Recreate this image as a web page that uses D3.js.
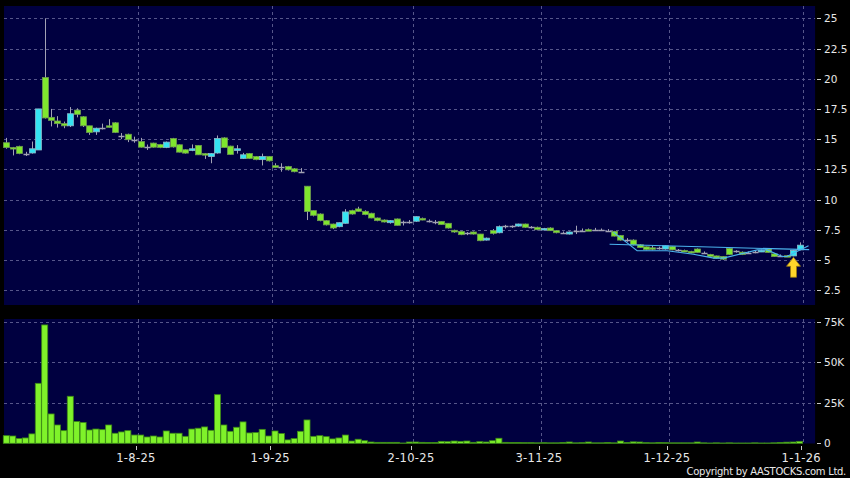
<!DOCTYPE html>
<html>
<head>
<meta charset="utf-8">
<script src="https://cdn.jsdelivr.net/npm/d3@7"></script>
<style>
  body { margin: 0; background: #000; }
  svg { display: block; }
  text { font-family: "DejaVu Sans", sans-serif; fill: #e8e8e8; }
</style>
</head>
<body>
<div id="chart"></div>
<script>
const width = 850;
const height = 478;

// 每日 [开, 高, 低, 收]
const ohlc = [
  [14.7, 15.1, 14.2, 14.3], [14.3, 14.35, 13.65, 14.2], [14.4, 14.45, 13.75, 13.8], [13.8, 13.95, 13.6, 13.8],
  [13.85, 14.8, 13.8, 14.2], [14.1, 17.5, 14.1, 17.5], [20.1, 25.0, 16.7, 16.75], [16.8, 17.5, 16.05, 16.55],
  [16.5, 16.9, 15.95, 16.28], [16.28, 16.45, 15.9, 16.1], [16.1, 17.65, 16.0, 17.1], [17.4, 17.55, 16.8, 17.05],
  [16.85, 16.9, 16.0, 16.1], [16.1, 16.1, 15.35, 15.55], [15.6, 15.95, 15.35, 15.9], [15.95, 16.28, 15.8, 15.95],
  [16.1, 16.65, 15.95, 16.0], [16.35, 16.4, 15.5, 15.55], [15.25, 15.5, 15.0, 15.25], [15.4, 15.45, 14.75, 14.95],
  [14.95, 15.2, 14.7, 14.95], [14.8, 15.1, 14.3, 14.33], [14.33, 14.55, 14.1, 14.33], [14.67, 14.7, 14.3, 14.33],
  [14.55, 14.6, 14.25, 14.3], [14.3, 14.8, 14.25, 14.75], [15.05, 15.1, 14.3, 14.35], [14.53, 14.55, 13.9, 13.92],
  [14.12, 14.15, 13.8, 13.84], [14.06, 14.56, 14.0, 14.2], [14.48, 14.5, 13.7, 13.7], [13.8, 13.85, 13.36, 13.67],
  [13.56, 13.85, 13.0, 13.8], [13.85, 15.3, 13.8, 15.05], [15.1, 15.15, 14.3, 14.3], [14.42, 14.45, 13.7, 13.73],
  [14.06, 14.5, 13.8, 14.2], [13.4, 13.86, 13.35, 13.7], [13.8, 13.85, 13.35, 13.4], [13.56, 13.6, 13.25, 13.3],
  [13.3, 13.8, 12.82, 13.56], [13.57, 13.6, 13.15, 13.2], [12.8, 13.0, 12.6, 12.65], [12.7, 13.0, 12.3, 12.7],
  [12.73, 12.78, 12.4, 12.46], [12.54, 12.6, 12.25, 12.3], [12.26, 12.6, 12.2, 12.26], [11.1, 11.1, 8.3, 9.0],
  [9.08, 9.1, 8.6, 8.69], [8.8, 8.85, 8.2, 8.25], [8.25, 8.3, 7.85, 7.9], [7.97, 8.0, 7.55, 7.64],
  [7.75, 8.1, 7.7, 8.08], [8.03, 9.2, 8.0, 8.97], [9.08, 9.15, 8.75, 8.8], [9.22, 9.4, 9.0, 9.02],
  [9.02, 9.1, 8.7, 8.75], [8.86, 8.9, 8.45, 8.47], [8.47, 8.5, 8.2, 8.25], [8.3, 8.35, 8.1, 8.14],
  [8.08, 8.3, 8.0, 8.25], [8.39, 8.42, 7.85, 7.86], [8.11, 8.25, 7.85, 8.11], [8.14, 8.3, 8.0, 8.14],
  [8.2, 8.6, 8.15, 8.58], [8.44, 8.5, 8.28, 8.3], [8.25, 8.35, 8.1, 8.25], [8.14, 8.3, 7.95, 8.14],
  [8.19, 8.2, 7.9, 7.92], [8.03, 8.05, 7.6, 7.64], [7.45, 7.5, 7.25, 7.31], [7.36, 7.4, 7.05, 7.09],
  [7.2, 7.3, 7.05, 7.2], [7.31, 7.35, 7.1, 7.14], [7.14, 7.15, 6.55, 6.59], [6.64, 6.85, 6.6, 6.8],
  [7.42, 7.55, 7.1, 7.2], [7.25, 7.85, 7.2, 7.75], [7.78, 7.9, 7.6, 7.78], [7.78, 7.85, 7.65, 7.78],
  [7.8, 8.0, 7.75, 7.97], [7.97, 8.0, 7.65, 7.7], [7.72, 7.8, 7.6, 7.72], [7.7, 7.75, 7.45, 7.5],
  [7.55, 7.65, 7.5, 7.6], [7.64, 7.7, 7.4, 7.42], [7.42, 7.45, 7.2, 7.25], [7.25, 7.35, 7.15, 7.25],
  [7.14, 7.35, 7.1, 7.31], [7.39, 7.83, 7.14, 7.39], [7.42, 7.6, 7.35, 7.42], [7.5, 7.6, 7.4, 7.47],
  [7.47, 7.65, 7.4, 7.47], [7.47, 7.6, 7.4, 7.47], [7.42, 7.55, 7.35, 7.42], [7.36, 7.4, 6.95, 6.97],
  [7.03, 7.05, 6.6, 6.64], [6.64, 6.8, 6.5, 6.64], [6.64, 6.7, 6.2, 6.25], [6.25, 6.3, 6.0, 6.03],
  [6.08, 6.1, 5.8, 5.86], [6.0, 6.15, 5.8, 5.9], [5.95, 6.1, 5.85, 5.95], [5.9, 6.2, 5.85, 6.17],
  [6.1, 6.15, 5.8, 5.83], [5.78, 5.9, 5.7, 5.78], [5.78, 5.85, 5.65, 5.7], [5.7, 5.75, 5.55, 5.6],
  [5.9, 5.95, 5.6, 5.62], [5.57, 5.7, 5.5, 5.57], [5.45, 5.5, 5.25, 5.28], [5.33, 5.35, 5.1, 5.14],
  [5.28, 5.3, 5.0, 5.06], [5.95, 6.0, 5.4, 5.45], [5.7, 5.8, 5.6, 5.7], [5.64, 5.7, 5.4, 5.45],
  [5.6, 5.7, 5.5, 5.6], [5.64, 5.75, 5.55, 5.64], [5.7, 5.85, 5.65, 5.78], [5.9, 5.95, 5.6, 5.62],
  [5.5, 5.55, 5.25, 5.28], [5.33, 5.45, 5.25, 5.33], [5.35, 5.4, 5.25, 5.3], [5.33, 5.8, 5.3, 5.78],
  [5.83, 6.45, 5.8, 6.22]
];

// 成交量 (千股)
const volumeK = [
  4.7, 4.5, 2.9, 3.3, 5.8, 37, 73, 18.1, 11.3, 7.8, 29, 13.4, 12.8, 8.2, 8.8, 8.4,
  11.3, 6.2, 7.0, 7.8, 5.1, 5.1, 3.9, 4.5, 3.9, 7.6, 6.2, 6.2, 4.3, 8.8, 9.3, 10.1,
  8.0, 30, 11.3, 7.4, 9.9, 13.2, 6.4, 6.6, 8.6, 4.5, 7.6, 6.0, 2.1, 2.9, 7.4, 14.4,
  4.3, 4.7, 4.1, 2.7, 3.3, 5.1, 1.4, 2.5, 1.6, 0.8, 0.6, 0.6, 0.6, 0.6, 0.2, 0.8,
  0.8, 0.6, 0.5, 0.5, 1.2, 1.0, 1.4, 1.2, 1.4, 0.6, 1.0, 0.8, 1.6, 3.1, 0.6, 0.5,
  0.5, 0.4, 0.4, 0.3, 0.4, 0.3, 0.3, 0.5, 0.8, 0.3, 0.4, 0.8, 0.3, 0.3, 0.5, 0.3,
  1.4, 0.5, 0.9, 0.8, 0.4, 0.3, 0.5, 0.4, 0.3, 0.3, 0.3, 0.3, 0.8, 0.3, 0.2, 0.3,
  0.2, 0.3, 0.2, 0.2, 0.2, 0.3, 0.2, 0.2, 0.3, 0.5, 0.7, 0.8, 1.2
];

// 日期刻度
const tickIndex = [21, 42, 64, 84, 104, 125];
const tickLabels = ["1-8-25", "1-9-25", "2-10-25", "3-11-25", "1-12-25", "1-1-26"];

const priceTicks = [2.5, 5, 7.5, 10, 12.5, 15, 17.5, 20, 22.5, 25];
const volTicks = [0, 25, 50, 75];

// 趋势线 [序号, 价格]
const trendLine = [[94.3, 6.29], [125.5, 5.85]];
const zigzagLine = [[94.9, 7.3], [98.6, 5.76], [103.3, 5.76], [107.4, 5.47], [110.6, 5.15], [112.1, 5.15],
  [117.4, 5.83], [118.9, 5.83], [121.3, 5.28], [122, 5.28], [125.4, 6.17]];
const arrowAt = 123;

const svg = d3.select("#chart").append("svg")
  .attr("width", width)
  .attr("height", height);

const plotL = 3.6, plotR = 815.1;
const priceTop = 6, priceBot = 305;
const volTop = 319, volBot = 443.5;

const x = d3.scaleBand()
  .domain(d3.range(127))
  .range([plotL, plotR])
  .paddingInner(0.15);
const half = x.bandwidth() / 2;
const xi = d3.scaleLinear().domain([0, 1]).range([x(0) + half, x(1) + half]);

const yP = d3.scaleLinear().domain([2.5, 25]).range([290.1, 18.3]);
const yV = d3.scaleLinear().domain([0, 75]).range([443.3, 321.7]);

// 背景面板
svg.append("rect").attr("x", 4).attr("y", priceTop).attr("width", plotR - 4).attr("height", priceBot - priceTop).attr("fill", "#000040");
svg.append("rect").attr("x", 4).attr("y", volTop).attr("width", plotR - 4).attr("height", volBot - volTop).attr("fill", "#000040");

const gridColor = "#56568a";
const grid = svg.append("g").attr("stroke", gridColor).attr("stroke-dasharray", "3,3").attr("stroke-width", 1);

grid.selectAll("line.hp").data(priceTicks).enter().append("line")
  .attr("x1", 4).attr("x2", plotR)
  .attr("y1", d => Math.round(yP(d)) + 0.5).attr("y2", d => Math.round(yP(d)) + 0.5);
grid.selectAll("line.hv").data(volTicks.slice(1)).enter().append("line")
  .attr("x1", 4).attr("x2", plotR)
  .attr("y1", d => Math.round(yV(d)) + 0.5).attr("y2", d => Math.round(yV(d)) + 0.5);
grid.selectAll("line.vp").data(tickIndex).enter().append("line")
  .attr("x1", d => Math.round(x(d)) + 0.5).attr("x2", d => Math.round(x(d)) + 0.5)
  .attr("y1", priceTop).attr("y2", priceBot);
grid.selectAll("line.vv").data(tickIndex).enter().append("line")
  .attr("x1", d => Math.round(x(d)) + 0.5).attr("x2", d => Math.round(x(d)) + 0.5)
  .attr("y1", volTop).attr("y2", volBot);

// 右侧坐标
const axisG = svg.append("g");
axisG.selectAll("line.pt").data(priceTicks).enter().append("line")
  .attr("x1", 817).attr("x2", 821)
  .attr("y1", d => Math.round(yP(d)) + 0.5).attr("y2", d => Math.round(yP(d)) + 0.5)
  .attr("stroke", "#c8c8c8");
axisG.selectAll("text.pt").data(priceTicks).enter().append("text")
  .attr("x", 824).attr("y", d => yP(d) + 4)
  .attr("font-size", 10.5)
  .text(d => d);
axisG.selectAll("line.vt").data(volTicks).enter().append("line")
  .attr("x1", 817).attr("x2", 821)
  .attr("y1", d => Math.round(yV(d)) + 0.5).attr("y2", d => Math.round(yV(d)) + 0.5)
  .attr("stroke", "#c8c8c8");
axisG.selectAll("text.vt").data(volTicks).enter().append("text")
  .attr("x", 824).attr("y", d => yV(d) + 4)
  .attr("font-size", 10.5)
  .text(d => d === 0 ? "0" : d + "K");

// 日期坐标
axisG.selectAll("line.xt").data(tickIndex).enter().append("line")
  .attr("x1", d => Math.round(x(d)) - 1.5).attr("x2", d => Math.round(x(d)) - 1.5)
  .attr("y1", 446).attr("y2", 450)
  .attr("stroke", "#c8c8c8");
axisG.selectAll("text.xt").data(tickIndex).enter().append("text")
  .attr("x", d => x(d) - 2).attr("y", 462)
  .attr("text-anchor", "middle")
  .attr("font-size", 11.5)
  .attr("letter-spacing", 0.3)
  .text((d, i) => tickLabels[i]);

svg.append("text")
  .attr("x", 846).attr("y", 475)
  .attr("text-anchor", "end")
  .attr("font-size", 10)
  .attr("letter-spacing", -0.3)
  .text("Copyright by AASTOCKS.com Ltd.");

// 成交量柱
svg.append("g").selectAll("rect").data(volumeK).enter().append("rect")
  .attr("x", (d, i) => x(i) - 0.3)
  .attr("width", x.bandwidth() + 0.6)
  .attr("y", d => yV(d))
  .attr("height", d => yV(0) - yV(d))
  .attr("fill", "#7ff22a")
  .attr("stroke", "#3d8a16")
  .attr("stroke-width", 0.8);

// 蜡烛图
const green = "#7fe62e", cyan = "#35e3f2", grey = "#a2a2b4";
const candleData = ohlc.map((d, i) => ({ i, o: d[0], h: d[1], l: d[2], c: d[3] }));
const cx = d => Math.round(xi(d.i)) + 0.5;
const candles = svg.append("g");

candles.selectAll("line.wick").data(candleData).enter().append("line")
  .attr("x1", cx).attr("x2", cx)
  .attr("y1", d => yP(d.h)).attr("y2", d => yP(d.l))
  .attr("stroke", grey).attr("stroke-width", 1);

candles.selectAll("rect.body").data(candleData.filter(d => d.o !== d.c)).enter().append("rect")
  .attr("x", d => cx(d) - 3)
  .attr("width", 6)
  .attr("y", d => yP(Math.max(d.o, d.c)))
  .attr("height", d => Math.max(1.5, Math.abs(yP(d.o) - yP(d.c))))
  .attr("fill", d => d.c > d.o ? cyan : green)
  .attr("stroke", d => d.c > d.o ? "#8ab8c8" : "#6e9a50")
  .attr("stroke-width", 0.8);

candles.selectAll("line.doji").data(candleData.filter(d => d.o === d.c)).enter().append("line")
  .attr("x1", d => cx(d) - 3).attr("x2", d => cx(d) + 3)
  .attr("y1", d => Math.round(yP(d.o)) + 0.5).attr("y2", d => Math.round(yP(d.o)) + 0.5)
  .attr("stroke", grey).attr("stroke-width", 1.5);

// 趋势线
const line = d3.line().x(d => xi(d[0])).y(d => yP(d[1]));
svg.append("path").attr("d", line(trendLine)).attr("fill", "none").attr("stroke", "#4bb4ee").attr("stroke-width", 1.1);
svg.append("path").attr("d", line(zigzagLine)).attr("fill", "none").attr("stroke", "#4bb4ee").attr("stroke-width", 1.1);

// 黄色箭头
const ax = Math.round(xi(arrowAt)) + 0.5;
const ay = yP(ohlc[arrowAt][2]) + 1;
svg.append("path")
  .attr("d", `M${ax},${ay} L${ax + 7},${ay + 9} L${ax + 3},${ay + 9} L${ax + 3},${ay + 20} L${ax - 3},${ay + 20} L${ax - 3},${ay + 9} L${ax - 7},${ay + 9} Z`)
  .attr("fill", "#ffd52a")
  .attr("stroke", "#9a7a10")
  .attr("stroke-width", 0.8);
</script>
</body>
</html>
